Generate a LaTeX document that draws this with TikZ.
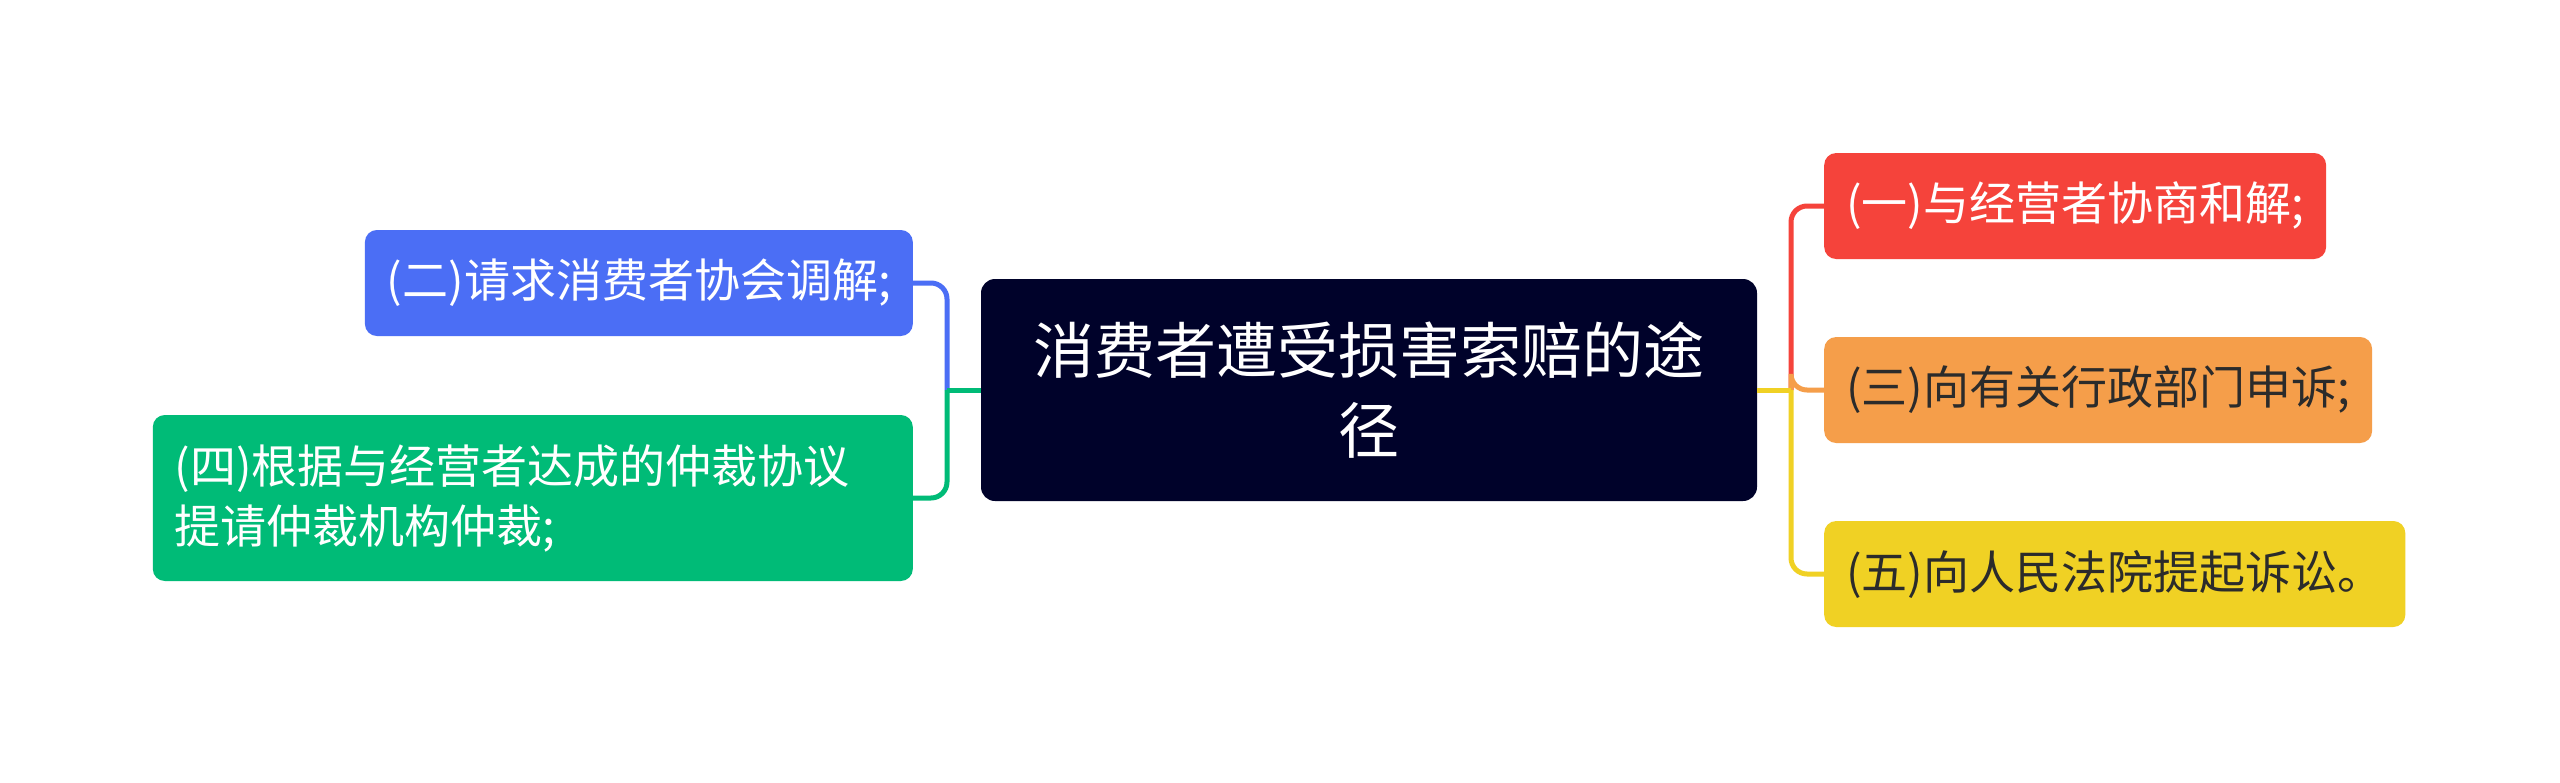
\documentclass[tikz,border=0pt]{standalone}
\usepackage{fontspec}
\newfontfamily\cjk{Noto Sans CJK SC}

\definecolor{rootbg}{HTML}{00022A}
\definecolor{redbr}{HTML}{F5433B}
\definecolor{orangebr}{HTML}{F59E4A}
\definecolor{yellowbr}{HTML}{F0D124}
\definecolor{bluebr}{HTML}{4B6EF5}
\definecolor{greenbr}{HTML}{00BB77}
\definecolor{darktext}{HTML}{2B2B2B}

\begin{document}
\begin{tikzpicture}[x=1pt, y=-1pt,
  branch/.style={line width=5pt},
  leaf/.style={rounded corners=12pt, inner xsep=22pt, inner ysep=0pt,
    minimum height=106pt, font=\cjk\fontsize{46}{60}\selectfont}]
  \useasboundingbox[fill=white] (0,0) rectangle (2560,782);

  % main topic
  \node[fill=rootbg, text=white, rounded corners=14pt, minimum width=776pt,
    minimum height=222pt, align=center,
    font=\cjk\fontsize{61}{80}\selectfont] (root) at (1369,390)
    {消费者遭受损害索赔的途\\径};

  % right side
  \node[leaf, fill=redbr, text=white, anchor=west] (one) at (1824,206)
    {(一)与经营者协商和解;};
  \node[leaf, fill=orangebr, text=darktext, anchor=west] (three) at (1824,390)
    {(三)向有关行政部门申诉;};
  \node[leaf, fill=yellowbr, text=darktext, anchor=west] (five) at (1824,574)
    {(五)向人民法院提起诉讼。};

  % left side
  \node[leaf, fill=bluebr, text=white, anchor=east] (two) at (913,283)
    {(二)请求消费者协会调解;};
  \node[leaf, fill=greenbr, text=white, anchor=east, align=left,
    text width=716pt, minimum height=166pt] (four) at (913,498)
    {(四)根据与经营者达成的仲裁协议\\提请仲裁机构仲裁;};

  \coordinate (rj) at (1791,390);
  \coordinate (lj) at (947,390);
  \foreach \n/\c in {one/redbr,three/orangebr,five/yellowbr} {
    \draw[branch, \c] (root.east) -- (rj);
    \draw[branch, \c, rounded corners=16pt] (rj) |- (\n.west);
  }
  \foreach \n/\c in {two/bluebr,four/greenbr} {
    \draw[branch, \c] (root.west) -- (lj);
    \draw[branch, \c, rounded corners=16pt] (lj) |- (\n.east);
  }
\end{tikzpicture}
\end{document}
